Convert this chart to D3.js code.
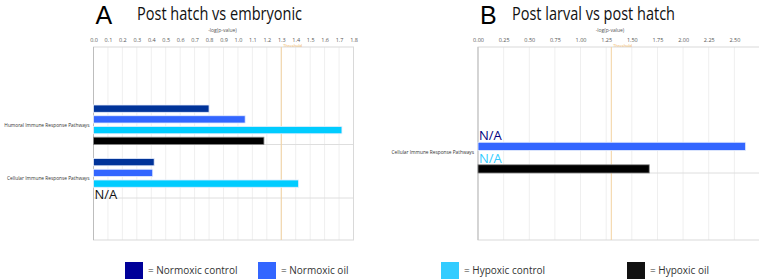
<!DOCTYPE html>
<html>
<head>
<meta charset="utf-8">
<script src="https://cdn.jsdelivr.net/npm/d3@7"></script>
<style>
  body { margin: 0; background: #fff; }
  svg { display: block; font-family: "Open Sans", "Liberation Sans", sans-serif; }
  .tick text { fill: #555; }
</style>
</head>
<body>
<script>
// series / legend
var seriesNames = ["Normoxic control", "Normoxic oil", "Hypoxic control", "Hypoxic oil"];
var barColors = ["#003399", "#3366ff", "#00ccff", "#000000"];
var legendColors = ["#000099", "#3366ff", "#33ccff", "#111111"];

// panel A : Post hatch vs embryonic
var catsA = ["Humoral Immune Response Pathways", "Cellular Immune Response Pathways"];
var normCtrlA = [0.80, 0.42];
var normOilA = [1.05, 0.41];
var hypCtrlA = [1.72, 1.42];
var hypOilA = [1.18, null];
var ticksA = [0, 0.1, 0.2, 0.3, 0.4, 0.5, 0.6, 0.7, 0.8, 0.9, 1.0, 1.1, 1.2, 1.3, 1.4, 1.5, 1.6, 1.7, 1.8];

// panel B : Post larval vs post hatch
var catsB = ["Cellular Immune Response Pathways"];
var normCtrlB = [null];
var normOilB = [2.61];
var hypCtrlB = [null];
var hypOilB = [1.67];
var ticksB = [0, 0.25, 0.5, 0.75, 1.0, 1.25, 1.5, 1.75, 2.0, 2.25, 2.5, 2.75];

var threshold = 1.3;

var W = 759, H = 279;
var svg = d3.select("body").append("svg").attr("width", W).attr("height", H);

function drawPanel(opt) {
  var x = d3.scaleLinear().domain(opt.domain).range([opt.x0, opt.x1]);
  var y = d3.scaleBand().domain(opt.cats).range(opt.yRange);
  var inner = d3.scaleBand().domain(seriesNames)
    .range([y.bandwidth() - opt.groupH, y.bandwidth()])
    .paddingInner(opt.pad);
  var top = 47, bottom = 240;

  var g = svg.append("g");

  // title
  g.append("text").attr("x", opt.x0 + 2).attr("y", 23.5)
    .attr("font-size", 25).attr("font-family", "'Liberation Sans', sans-serif")
    .attr("fill", "#000").text(opt.letter);
  g.append("text").attr("x", opt.titleX).attr("y", 20)
    .attr("font-size", 19).attr("fill", "#111")
    .attr("textLength", opt.titleW).attr("lengthAdjust", "spacingAndGlyphs")
    .text(opt.title);

  // vertical gridlines
  g.selectAll(".vg").data(opt.ticks.slice(1)).enter().append("line")
    .attr("x1", function(d) { return x(d); }).attr("x2", function(d) { return x(d); })
    .attr("y1", top).attr("y2", bottom)
    .attr("stroke", "#efefef").attr("stroke-width", 1);

  // horizontal category separators
  g.selectAll(".hg").data(opt.cats).enter().append("line")
    .attr("x1", opt.x0).attr("x2", opt.x1)
    .attr("y1", function(d) { return y(d) + y.bandwidth(); })
    .attr("y2", function(d) { return y(d) + y.bandwidth(); })
    .attr("stroke", "#dedede").attr("stroke-width", 1);

  // plot border
  g.append("rect").attr("x", opt.x0).attr("y", top)
    .attr("width", opt.x1 - opt.x0).attr("height", bottom - top)
    .attr("fill", "none").attr("stroke", "#d9d9d9");
  g.append("line").attr("x1", opt.x0).attr("x2", opt.x0)
    .attr("y1", top).attr("y2", bottom).attr("stroke", "#bdbdbd");

  // threshold
  g.append("line").attr("x1", x(threshold)).attr("x2", x(threshold))
    .attr("y1", top).attr("y2", bottom)
    .attr("stroke", "#f3d2a0").attr("stroke-width", 1);
  g.append("text").attr("x", x(threshold) + 2).attr("y", 46.5)
    .attr("font-size", 4).attr("fill", "#f0b050").text("Threshold");

  // axis on top
  var axis = d3.axisTop(x).tickValues(opt.ticks.filter(function(d) { return x(d) < W - 8; }))
    .tickFormat(d3.format(opt.fmt)).tickSize(0).tickPadding(0);
  var ax = g.append("g").attr("transform", "translate(0," + 42 + ")").call(axis);
  ax.select(".domain").remove();
  ax.selectAll("text").attr("font-size", 5.5).attr("font-family", "'Open Sans', sans-serif");

  g.append("text").attr("x", (opt.x0 + opt.x1) / 2 - opt.axisShift).attr("y", 32)
    .attr("text-anchor", "middle").attr("font-size", 5).attr("fill", "#555")
    .text("-log(p-value)");

  // category labels
  g.selectAll(".cat").data(opt.cats).enter().append("text")
    .attr("x", opt.x0 - 4)
    .attr("y", function(d) { return y(d) + y.bandwidth() - opt.groupH / 2 + 2; })
    .attr("text-anchor", "end").attr("font-size", 4.8).attr("fill", "#333")
    .text(function(d) { return d; });

  // bars
  opt.series.forEach(function(vals, si) {
    var name = seriesNames[si];
    opt.cats.forEach(function(cat, ci) {
      var v = vals[ci];
      var yy = y(cat) + inner(name);
      if (v == null) {
        g.append("text").attr("x", opt.x0 + 1)
          .attr("y", yy + inner.bandwidth() + 1)
          .attr("font-size", 13).attr("fill", opt.naColors[si])
          .text("N/A");
        return;
      }
      g.append("rect")
        .attr("x", x(0)).attr("y", yy)
        .attr("width", x(v) - x(0)).attr("height", inner.bandwidth())
        .attr("fill", barColors[si])
        .attr("stroke", si === 3 ? "#888" : "#e8eefc").attr("stroke-width", 0.8);
    });
  });
}

drawPanel({
  letter: "A", title: "Post hatch vs embryonic", titleX: 137, titleW: 165,
  x0: 93.5, x1: 353.5, domain: [0, 1.8], ticks: ticksA, fmt: ".1f",
  cats: catsA, yRange: [91, 198], groupH: 39.5, pad: 0.32,
  series: [normCtrlA, normOilA, hypCtrlA, hypOilA],
  naColors: ["#000066", "#3366ff", "#33ccff", "#111111"],
  axisShift: 1
});

drawPanel({
  letter: "B", title: "Post larval vs post hatch", titleX: 512, titleW: 163,
  x0: 478, x1: 760, domain: [0, 2.75], ticks: ticksB, fmt: ".2f",
  cats: catsB, yRange: [117, 173], groupH: 42, pad: 0.27,
  series: [normCtrlB, normOilB, hypCtrlB, hypOilB],
  naColors: ["#000080", "#3366ff", "#33ccff", "#111111"],
  axisShift: 9
});

// legend
var legendX = [125, 258, 441, 627];
var lg = svg.append("g");
seriesNames.forEach(function(name, i) {
  lg.append("rect").attr("x", legendX[i]).attr("y", 262)
    .attr("width", 18).attr("height", 18).attr("fill", legendColors[i]);
  lg.append("text").attr("x", legendX[i] + 23).attr("y", 274)
    .attr("font-size", 10).attr("fill", "#333")
    .text("= " + name);
});
</script>
</body>
</html>
